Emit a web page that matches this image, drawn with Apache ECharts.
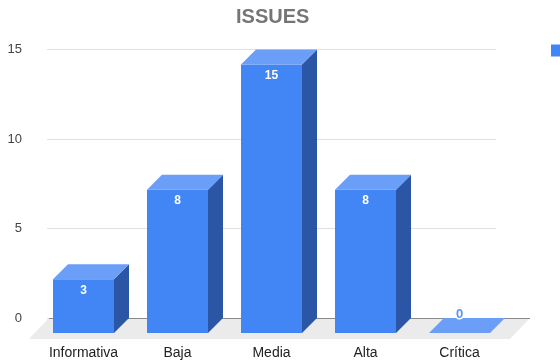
<!DOCTYPE html>
<html>
<head>
<meta charset="utf-8">
<script src="https://cdn.jsdelivr.net/npm/echarts@6/dist/echarts.min.js"></script>
<style>html,body{margin:0;padding:0;background:#fff}#c{width:560px;height:362px}</style>
</head>
<body>
<div id="c"></div>
<script>
const title = 'ISSUES';
const seriesName = 'ISSUES';
const categories = ['Informativa', 'Baja', 'Media', 'Alta', 'Crítica'];
const values = [3, 8, 15, 8, 0];
const yMin = 0, yMax = 15, yStep = 5;

const FRONT = '#4285f4', SIDE = '#2b56a6', TOP = '#6a9ef7';
const BAR_W = 61, DX = 15, DY = 15;

const chart = echarts.init(document.getElementById('c'), null, {renderer: 'canvas'});

function renderBar(params, api) {
  const idx = api.value(0), v = api.value(1);
  const back = api.coord([idx, v]);
  const base = api.coord([idx, 0]);
  const bl = back[0] - BAR_W / 2, br = back[0] + BAR_W / 2;
  const top = back[1], bottom = base[1];
  const fl = bl - DX, fr = br - DX;
  const children = [];
  if (bottom - top > 0.5) {
    children.push({type: 'polygon', shape: {points: [[fr, top + DY], [br, top], [br, bottom], [fr, bottom + DY]]}, style: {fill: SIDE}});
    children.push({type: 'rect', shape: {x: fl, y: top + DY, width: BAR_W, height: bottom - top}, style: {fill: FRONT}});
  }
  children.push({type: 'polygon', shape: {points: [[fl, top + DY], [bl, top], [br, top], [fr, top + DY]]}, style: {fill: TOP}});
  const cx = (fl + fr) / 2;
  if (v > 0) {
    children.push({type: 'text', style: {text: String(v), x: cx, y: top + DY + 11, align: 'center', verticalAlign: 'middle', fill: '#ffffff', font: 'bold 12px Arial, "Liberation Sans", sans-serif'}});
  } else {
    children.push({type: 'text', style: {text: String(v), x: cx, y: top - 4, align: 'center', verticalAlign: 'middle', fill: '#5b93f5', stroke: '#ffffff', lineWidth: 3, font: 'bold 13px Arial, "Liberation Sans", sans-serif'}});
  }
  return {type: 'group', children: children};
}

function renderFloor(params, api) {
  const cs = params.coordSys;
  const y0 = api.coord([0, 0])[1];
  const l = cs.x - 2.5, r = cs.x + cs.width + 8.5;
  const depthX = 20, depthY = 21;
  return {type: 'group', children: [
    {type: 'polygon', shape: {points: [[l, y0], [r, y0], [r - depthX, y0 + depthY], [l - depthX, y0 + depthY]]}, style: {fill: '#ebebeb'}},
    {type: 'line', shape: {x1: l, y1: y0 + 0.5, x2: r, y2: y0 + 0.5}, style: {stroke: '#8a8a8a', lineWidth: 1}}
  ]};
}

const option = {
  animation: false,
  backgroundColor: '#ffffff',
  title: {
    text: title, left: 236, top: 7, padding: 0,
    textStyle: {fontFamily: 'Arial, "Liberation Sans", sans-serif', fontSize: 20, fontWeight: 'bold', color: '#757575'}
  },
  legend: {
    left: 551, top: 44, padding: 0, itemWidth: 12, itemHeight: 12, icon: 'rect',
    data: [seriesName],
    textStyle: {color: '#222', fontSize: 13}
  },
  grid: [
    {left: 47, right: 64, top: 49.5, bottom: 44},
    {left: 51.5, right: 38.5, top: 49.5, bottom: 44}
  ],
  xAxis: [
    {gridIndex: 0, type: 'value', min: 0, max: 1, show: false},
    {gridIndex: 1, type: 'category', data: categories,
     axisLine: {show: false}, axisTick: {show: false},
     axisLabel: {margin: 28, padding: [0, 30, 0, 0], color: '#222', fontSize: 14, fontFamily: 'Arial, "Liberation Sans", sans-serif'}}
  ],
  yAxis: [
    {gridIndex: 0, type: 'value', min: yMin, max: yMax, interval: yStep,
     axisLine: {show: false}, axisTick: {show: false},
     axisLabel: {margin: 25, color: '#444', fontSize: 13, fontFamily: 'Arial, "Liberation Sans", sans-serif'},
     splitLine: {lineStyle: {color: '#e0e0e0', width: 1}}},
    {gridIndex: 1, type: 'value', min: yMin, max: yMax, interval: yStep, show: false, splitLine: {show: false}}
  ],
  series: [
    {type: 'custom', name: 'floor', xAxisIndex: 1, yAxisIndex: 1, z: 1, silent: true,
     renderItem: renderFloor, data: [[0, 0]]},
    {type: 'custom', name: seriesName, xAxisIndex: 1, yAxisIndex: 1, z: 2,
     itemStyle: {color: FRONT},
     renderItem: renderBar,
     encode: {x: 0, y: 1},
     data: categories.map((c, i) => [i, values[i]])}
  ]
};
chart.setOption(option);
</script>
</body>
</html>
